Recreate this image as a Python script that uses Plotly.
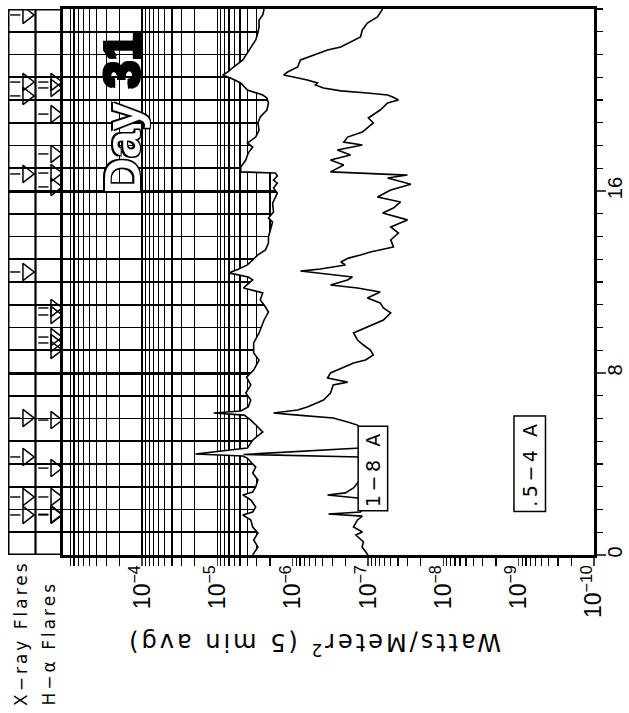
import plotly.graph_objects as go

# ---------------- data ----------------
# GOES long channel 1-8 Angstrom, time in UT hours, flux in W/m^2
t_long = [0.00, 0.35, 0.66, 0.97, 1.23, 1.54, 1.76, 1.89, 2.11, 2.42, 2.64, 2.77, 2.99,
          3.30, 3.60, 3.87, 4.09, 4.26, 4.35, 4.44, 4.70, 5.05, 5.41, 5.71, 5.93, 6.15,
          6.24, 6.33, 6.51, 6.81, 7.12, 7.47, 7.82, 8.13, 8.57, 8.88, 9.32, 9.76, 10.33,
          10.68, 10.90, 11.21, 11.52, 11.74, 12.09, 12.22, 12.40, 12.57, 12.75, 12.97,
          13.19, 13.41, 13.71, 13.98, 14.29, 14.64, 14.81, 15.08, 15.47, 15.91, 16.13,
          16.35, 16.48, 16.66, 16.79, 16.84, 17.05, 17.36, 17.67, 17.93, 18.11, 18.37,
          18.68, 18.99, 19.25, 19.56, 19.87, 20.09, 20.22, 20.44, 20.75, 20.97, 21.10,
          21.23, 21.45, 21.76, 22.07, 22.33, 22.64, 22.95, 23.21, 23.52, 23.74, 24.00]
f_long = [3.4e-6, 2.9e-6, 3.3e-6, 2.9e-6, 3.4e-6, 3.6e-6, 4.6e-6, 3.4e-6, 3.1e-6, 3.6e-6,
          4.6e-6, 3.4e-6, 3.1e-6, 2.9e-6, 3.4e-6, 3.1e-6, 3.6e-6, 4.0e-6, 4.6e-6, 1.95e-5,
          4.0e-6, 3.4e-6, 2.5e-6, 3.1e-6, 3.6e-6, 4.4e-6, 1.12e-5, 4.9e-6, 3.9e-6, 3.6e-6,
          4.2e-6, 3.6e-6, 4.1e-6, 3.3e-6, 2.8e-6, 3.3e-6, 3.3e-6, 2.8e-6, 2.4e-6, 2.1e-6,
          2.3e-6, 2.7e-6, 2.5e-6, 4.5e-6, 3.4e-6, 3.9e-6, 7.1e-6, 5.2e-6, 4.0e-6, 3.4e-6,
          2.9e-6, 2.3e-6, 2.1e-6, 2.1e-6, 2.0e-6, 1.85e-6, 2.1e-6, 1.8e-6, 1.85e-6, 1.6e-6,
          1.8e-6, 1.6e-6, 1.8e-6, 1.6e-6, 1.7e-6, 4.9e-6, 4.9e-6, 4.2e-6, 3.9e-6, 3.4e-6,
          4.0e-6, 3.1e-6, 2.8e-6, 2.9e-6, 2.7e-6, 2.2e-6, 2.1e-6, 2.2e-6, 2.5e-6, 4.0e-6,
          4.9e-6, 6.7e-6, 8.5e-6, 7.3e-6, 6.1e-6, 4.6e-6, 4.0e-6, 3.6e-6, 3.1e-6, 2.9e-6,
          2.8e-6, 2.8e-6, 2.5e-6, 2.4e-6]

# GOES short channel 0.5-4 Angstrom
t_short = [0.00, 0.35, 0.57, 0.88, 1.01, 1.23, 1.54, 1.71, 1.80, 1.89, 2.20, 2.51, 2.64,
           2.73, 2.95, 3.16, 3.52, 3.96, 4.18, 4.31, 4.42, 4.70, 4.84, 5.14, 5.49, 5.71,
           5.85, 6.02, 6.15, 6.24, 6.37, 6.51, 6.81, 7.12, 7.47, 7.60, 7.78, 8.00, 8.44,
           8.57, 8.79, 9.01, 9.23, 9.45, 9.76, 10.02, 10.33, 10.64, 10.86, 11.08, 11.30,
           11.56, 11.74, 11.87, 12.09, 12.22, 12.40, 12.48, 12.57, 12.75, 12.88, 13.05,
           13.19, 13.32, 13.54, 13.85, 14.15, 14.42, 14.73, 15.03, 15.25, 15.52, 15.74,
           16.04, 16.30, 16.57, 16.70, 16.84, 17.14, 17.36, 17.58, 17.80, 18.02, 18.15,
           18.37, 18.59, 18.77, 18.99, 19.21, 19.34, 19.56, 19.87, 20.00, 20.13, 20.22,
           20.31, 20.40, 20.53, 20.66, 20.75, 20.88, 21.01, 21.10, 21.23, 21.45, 21.76,
           21.98, 22.20, 22.33, 22.55, 22.77, 23.08, 23.38, 23.65, 24.00]
f_short = [1.0e-7, 1.2e-7, 1.15e-7, 1.45e-7, 1.19e-7, 1.56e-7, 1.38e-7, 1.19e-7, 3.35e-7,
           1.26e-7, 1.08e-7, 1.38e-7, 3.45e-7, 2.0e-7, 1.56e-7, 1.38e-7, 1.08e-7, 9.9e-8,
           1.02e-7, 1.26e-7, 4.5e-6, 1.26e-7, 1.08e-7, 1.02e-7, 1.19e-7, 1.38e-7, 1.87e-7,
           2.9e-7, 8.6e-7, 1.8e-6, 8.6e-7, 6.4e-7, 3.9e-7, 3.15e-7, 2.9e-7, 1.87e-7, 3.45e-7,
           3.15e-7, 1.56e-7, 1.08e-7, 8.5e-8, 9.3e-8, 1.15e-7, 1.38e-7, 1.56e-7, 1.02e-7,
           6.25e-8, 5.0e-8, 6.25e-8, 6.9e-8, 1.02e-7, 6.9e-8, 1.38e-7, 3.15e-7, 1.87e-7,
           1.61e-7, 4.3e-7, 7.9e-7, 4.3e-7, 2.0e-7, 2.3e-7, 1.82e-7, 1.26e-7, 9.3e-8, 4.6e-8,
           5.0e-8, 3.95e-8, 5.0e-8, 3.0e-8, 6.4e-8, 4.6e-8, 3.7e-8, 7.5e-8, 5.0e-8, 2.7e-8,
           5.5e-8, 3.0e-8, 3.15e-7, 2.1e-7, 3.15e-7, 1.71e-7, 2.55e-7, 1.19e-7, 2.1e-7,
           1.87e-7, 1.19e-7, 1.02e-7, 8.5e-8, 9.9e-8, 8.7e-8, 6.9e-8, 5.5e-8, 3.95e-8, 4.7e-8,
           5.5e-8, 1.02e-7, 2.3e-7, 3.9e-7, 5.0e-7, 4.7e-7, 6.4e-7, 9.8e-7, 1.32e-6, 1.17e-6,
           8.6e-7, 7.9e-7, 5.3e-7, 3.45e-7, 2.3e-7, 1.71e-7, 1.26e-7, 1.19e-7, 1.02e-7,
           7.5e-8, 6.4e-8]

# flare reports (UT hours)
xray_flares = [1.76, 2.55, 4.31, 6.02, 12.44, 16.75, 20.18, 20.79, 23.74]
halpha_flares = [1.76, 1.79, 2.55, 3.82, 5.93, 9.01, 9.32, 9.58, 10.55, 10.86,
                 16.18, 16.79, 17.63, 19.38, 20.53, 20.79]

flux_exponents = [-4, -5, -6, -7, -8, -9, -10]
time_tick_vals = [0, 8, 16]
time_tick_text = ["0", "8", "16"]

# ---------------- figure ----------------
W, H = 629, 713
FONT = "Liberation Sans, Arial, sans-serif"
WIDE = "DejaVu Sans, Liberation Sans, sans-serif"


def px_x(p):
    return p / W


def px_y(p):
    return 1 - p / H


def spaced(txt, sp):
    return "<span style='letter-spacing:%spx'>%s</span>" % (sp, txt)


flux_tickvals = [10.0 ** e for e in flux_exponents]
flux_ticktext = ["10<sup>\u2212%d</sup>" % (-e) for e in flux_exponents]
minor_vals = [k * 10.0 ** e for e in range(-11, -2) for k in range(2, 10)]

fig = go.Figure()

# white mask below the 1-8 A curve (hides the grid there)
fig.add_trace(go.Scatter(
    x=f_long + [1e-12, 1e-12], y=t_long + [t_long[-1], t_long[0]],
    mode="lines", fill="toself", fillcolor="white",
    line=dict(width=0, color="white"), hoverinfo="skip", showlegend=False))

fig.add_trace(go.Scatter(x=f_long, y=t_long, mode="lines",
                         line=dict(color="black", width=1.6), showlegend=False))
fig.add_trace(go.Scatter(x=f_short, y=t_short, mode="lines",
                         line=dict(color="black", width=1.6), showlegend=False))


# flare arrows in the left panel
def arrows(times, x_tail0, x_tail1, x_head):
    xs, ys = [], []
    for t in times:
        xs += [x_tail0, x_tail1, None]
        ys += [t, t, None]
    fig.add_trace(go.Scatter(x=xs, y=ys, mode="lines", xaxis="x2", yaxis="y",
                             line=dict(color="black", width=1.4), showlegend=False))
    fig.add_trace(go.Scatter(x=[x_head] * len(times), y=times, mode="markers",
                             xaxis="x2", yaxis="y",
                             marker=dict(symbol="triangle-right-open", size=15,
                                         color="black", line=dict(width=1.5)),
                             showlegend=False))


arrows(xray_flares, 0.08, 0.45, 0.68)
arrows(halpha_flares, 1.10, 1.47, 1.70)

fig.update_layout(
    width=W, height=H,
    margin=dict(l=0, r=0, t=0, b=0),
    paper_bgcolor="white", plot_bgcolor="white",
    font=dict(family=FONT, color="black"),
    showlegend=False,
    hovermode=False,
    xaxis=dict(
        domain=[px_x(63), px_x(594)], type="log", range=[-2.95, -10],
        tickvals=flux_tickvals, ticktext=flux_ticktext, tickangle=-90,
        tickfont=dict(size=23), ticks="outside", ticklen=8, tickwidth=1.5,
        ticklabelstandoff=-10,
        showline=True, mirror=True, linewidth=3, linecolor="black",
        showgrid=True, gridcolor="black", gridwidth=1.4, zeroline=False,
        minor=dict(tickvals=minor_vals, ticks="outside", ticklen=8, tickwidth=1.2,
                   tickcolor="black", showgrid=True, gridcolor="black", gridwidth=1.2),
        automargin=False, anchor="y"),
    yaxis=dict(
        domain=[px_y(555), px_y(9)], range=[0, 24], side="right",
        tickvals=time_tick_vals, ticktext=time_tick_text, tickangle=-90,
        tickfont=dict(size=20), ticks="outside", ticklen=9, tickwidth=1.5,
        ticklabelstandoff=-8,
        showline=True, mirror=True, linewidth=3, linecolor="black",
        showgrid=True, gridcolor="black", gridwidth=3, zeroline=False,
        minor=dict(dtick=1, ticks="outside", ticklen=6, tickwidth=1.3,
                   tickcolor="black", showgrid=True, gridcolor="black", gridwidth=1.9),
        automargin=False, anchor="x"),
    xaxis2=dict(domain=[px_x(8), px_x(63)], range=[0, 2], anchor="y",
                visible=False, fixedrange=True),
)

# left flare panel frame
fig.add_shape(type="rect", xref="x2", yref="y", x0=0, x1=2, y0=0, y1=24,
              line=dict(color="black", width=3))
fig.add_shape(type="line", xref="x2", yref="y", x0=1, x1=1, y0=0, y1=24,
              line=dict(color="black", width=2.2))

annotations = [
    dict(text=spaced("Watts/Meter<sup>2</sup> (5 min avg)", 3), xref="paper", yref="paper",
         x=px_x(314), y=px_y(662), textangle=180, showarrow=False,
         font=dict(size=24, family=WIDE)),
    dict(text=spaced("X\u2212ray Flares", 3), xref="paper", yref="paper",
         x=px_x(21), y=px_y(708), xanchor="center", yanchor="bottom",
         textangle=-90, showarrow=False, font=dict(size=17, family=WIDE)),
    dict(text=spaced("H\u2212\u03b1 Flares", 3), xref="paper", yref="paper",
         x=px_x(48), y=px_y(708), xanchor="center", yanchor="bottom",
         textangle=-90, showarrow=False, font=dict(size=17, family=WIDE)),
    dict(text=spaced("1\u22128 A", 3.5), xref="x", yref="y", x=-7.065, y=3.8,
         textangle=-90, showarrow=False, bgcolor="white", bordercolor="black",
         borderwidth=1.5, borderpad=3, font=dict(size=19, family=WIDE)),
    dict(text=spaced(".5\u22124 A", 3.5), xref="x", yref="y", x=-9.14, y=4.0,
         textangle=-90, showarrow=False, bgcolor="white", bordercolor="black",
         borderwidth=1.5, borderpad=4, font=dict(size=19, family=WIDE)),
    dict(text="<span style='color:white'>Day</span> 31", xref="x", yref="y",
         x=-3.74, y=19.4, textangle=-90, showarrow=False,
         font=dict(size=50, family=FONT, weight="bold", color="black",
                   shadow="1.5px 1.5px 0 #000, -1.5px -1.5px 0 #000, 1.5px -1.5px 0 #000, -1.5px 1.5px 0 #000")),
]
fig.update_layout(annotations=annotations)

fig.write_html("out.html", config={"displayModeBar": False, "staticPlot": True},
               post_script="document.body.style.margin='0px';document.body.style.padding='0px';")
